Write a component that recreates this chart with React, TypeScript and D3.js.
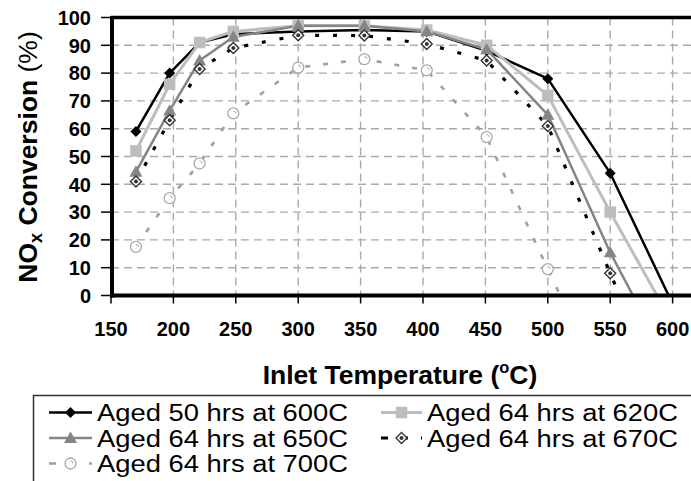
import React from "react";
import * as d3 from "d3";

// Inlet temperatures (°C) at which NOx conversion was measured
const TEMPS = [170, 197, 221, 248, 300, 353, 403, 451, 500, 550, 600];
const TEMPS_700 = [170, 197, 221, 248, 300, 353, 403, 451, 500, 550];

// NOx conversion (%) per ageing condition
const AGED_50H_600C = [59, 80, 91, 94, 95, 95.5, 95, 88, 78, 44, -3];
const AGED_64H_620C = [52, 76, 91, 95, 97, 97, 95.5, 90, 72, 30, -10];
const AGED_64H_650C = [44.5, 66.5, 84.5, 93, 97, 97, 95, 88.5, 65, 15.5, -27];
const AGED_64H_670C = [41, 63, 81.5, 89, 93.6, 93.5, 90.5, 84.5, 61, 8, -45];
const AGED_64H_700C = [17.5, 35, 47.5, 65.5, 82, 85, 81, 57, 9.5, -38];

const X_TICKS = [150, 200, 250, 300, 350, 400, 450, 500, 550, 600];
const Y_TICKS = [0, 10, 20, 30, 40, 50, 60, 70, 80, 90, 100];

const LEGEND_LABELS = [
  "Aged 50 hrs at 600C",
  "Aged 64 hrs at 620C",
  "Aged 64 hrs at 650C",
  "Aged 64 hrs at 670C",
  "Aged 64 hrs at 700C",
];

type MarkerKind = "diamond" | "square" | "triangle" | "openDiamond" | "openCircle";

interface Series {
  name: string;
  xs: number[];
  ys: number[];
  color: string;
  width: number;
  dash?: string;
  marker: MarkerKind;
}

const SERIES: Series[] = [
  { name: LEGEND_LABELS[0], xs: TEMPS, ys: AGED_50H_600C, color: "#000", width: 2.5, marker: "diamond" },
  { name: LEGEND_LABELS[1], xs: TEMPS, ys: AGED_64H_620C, color: "#bdbdbd", width: 3, marker: "square" },
  { name: LEGEND_LABELS[2], xs: TEMPS, ys: AGED_64H_650C, color: "#858585", width: 2.5, marker: "triangle" },
  { name: LEGEND_LABELS[3], xs: TEMPS, ys: AGED_64H_670C, color: "#000", width: 3.2, dash: "4 14", marker: "openDiamond" },
  { name: LEGEND_LABELS[4], xs: TEMPS_700, ys: AGED_64H_700C, color: "#a0a0a0", width: 2.6, dash: "5 13", marker: "openCircle" },
];

const FONT = "'Liberation Sans', Arial, Helvetica, sans-serif";

const W = 691;
const H = 481;
const PLOT = { left: 111, right: 700, top: 17.5, bottom: 295.5 };

const x = d3.scaleLinear().domain([150, 600]).range([111, 672.6]);
const y = d3.scaleLinear().domain([0, 100]).range([PLOT.bottom, PLOT.top]);

function Marker({ kind, cx, cy, color }: { kind: MarkerKind; cx: number; cy: number; color: string }) {
  switch (kind) {
    case "diamond": {
      const r = 5.5;
      return <path d={`M${cx},${cy - r}L${cx + r},${cy}L${cx},${cy + r}L${cx - r},${cy}Z`} fill={color} />;
    }
    case "square": {
      const s = 11.5;
      return <rect x={cx - s / 2} y={cy - s / 2} width={s} height={s} fill={color} />;
    }
    case "triangle": {
      const r = 6.5;
      return (
        <path d={`M${cx},${cy - r}L${cx + r},${cy + r * 0.75}L${cx - r},${cy + r * 0.75}Z`} fill={color} />
      );
    }
    case "openDiamond": {
      const r = 5.5;
      return (
        <g>
          <path
            d={`M${cx},${cy - r}L${cx + r},${cy}L${cx},${cy + r}L${cx - r},${cy}Z`}
            fill="#fff"
            stroke="#333"
            strokeWidth={1.4}
          />
          <circle cx={cx} cy={cy} r={2} fill="#333" />
        </g>
      );
    }
    case "openCircle":
      return (
        <g>
          <circle cx={cx} cy={cy} r={5.5} fill="#fff" stroke="#a8a8a8" strokeWidth={1.3} />
          <path d={`M${cx},${cy - 2.5}A2.5,2.5 0 0 1 ${cx + 2.5},${cy}`} fill="none" stroke="#a8a8a8" strokeWidth={1} />
        </g>
      );
  }
}

export default function App() {
  const line = d3
    .line<[number, number]>()
    .x((d) => x(d[0]))
    .y((d) => y(d[1]));

  const legendRows = [
    { s: SERIES[0], lx: 49, tx: 97, by: 421 },
    { s: SERIES[1], lx: 381, tx: 427, by: 421 },
    { s: SERIES[2], lx: 49, tx: 97, by: 446.5 },
    { s: SERIES[3], lx: 381, tx: 427, by: 446.5 },
    { s: SERIES[4], lx: 49, tx: 97, by: 472 },
  ];

  return (
    <svg
      width={W}
      height={H}
      style={{ position: "absolute", left: 0, top: 0, background: "#fff" }}
      fontFamily={FONT}
    >
      <defs>
        <clipPath id="plot-clip">
          <rect x={PLOT.left} y={PLOT.top - 8} width={PLOT.right - PLOT.left} height={PLOT.bottom - PLOT.top + 8} />
        </clipPath>
      </defs>
      <rect x={0} y={0} width={W} height={H} fill="#fff" />

      {/* dashed grid */}
      <g stroke="#aaa" strokeWidth={1.4} strokeDasharray="8 5">
        {Y_TICKS.filter((t) => t > 0 && t < 100).map((t) => (
          <line key={`gy${t}`} x1={PLOT.left} x2={PLOT.right} y1={y(t)} y2={y(t)} />
        ))}
        {X_TICKS.filter((t) => t > 150).map((t) => (
          <line key={`gx${t}`} x1={x(t)} x2={x(t)} y1={PLOT.top} y2={PLOT.bottom} />
        ))}
      </g>

      {/* series lines */}
      <g clipPath="url(#plot-clip)">
        {SERIES.map((s) => {
          const pts = s.xs.map((t, i) => [t, s.ys[i]] as [number, number]);
          return (
            <path
              key={s.name}
              d={line(pts) ?? ""}
              fill="none"
              stroke={s.color}
              strokeWidth={s.width}
              strokeDasharray={s.dash}
              strokeLinejoin="round"
            />
          );
        })}
      </g>
      {/* series markers */}
      <g clipPath="url(#plot-clip)">
        {SERIES.map((s) =>
          s.xs.map((t, i) =>
            s.ys[i] >= 0 ? (
              <Marker key={`${s.name}-${t}`} kind={s.marker} cx={x(t)} cy={y(s.ys[i])} color={s.color} />
            ) : null
          )
        )}
      </g>

      {/* frame and axes */}
      <line x1={PLOT.left} x2={W + 10} y1={PLOT.top} y2={PLOT.top} stroke="#000" strokeWidth={3.5} />
      <line x1={PLOT.left + 1} x2={PLOT.left + 1} y1={PLOT.top - 1.5} y2={PLOT.bottom + 2} stroke="#000" strokeWidth={4} />
      <line x1={PLOT.left - 1} x2={W + 10} y1={PLOT.bottom} y2={PLOT.bottom} stroke="#000" strokeWidth={4} />

      {/* y ticks and labels */}
      {Y_TICKS.map((t) => (
        <g key={`yt${t}`}>
          <line x1={101} x2={PLOT.left} y1={y(t)} y2={y(t)} stroke="#000" strokeWidth={1.5} />
          <text x={91} y={y(t)} dy="0.36em" textAnchor="end" fontSize={20} fontWeight="bold" fill="#000">
            {t}
          </text>
        </g>
      ))}

      {/* x ticks and labels */}
      {X_TICKS.map((t) => (
        <g key={`xt${t}`}>
          <line x1={x(t)} x2={x(t)} y1={PLOT.bottom} y2={PLOT.bottom + 8} stroke="#000" strokeWidth={1.5} />
          <text x={x(t)} y={336} textAnchor="middle" fontSize={20} fontWeight="bold" fill="#000">
            {t}
          </text>
        </g>
      ))}

      {/* axis titles */}
      <text
        transform="translate(37,157) rotate(-90)"
        textAnchor="middle"
        fontSize={26.5}
        fontWeight="bold"
        fill="#000"
      >
        NO
        <tspan fontSize={18} dy={5}>
          x
        </tspan>
        <tspan dy={-5}> Conversion </tspan>
        <tspan fontWeight="normal">(%)</tspan>
      </text>
      <text x={400} y={384} textAnchor="middle" fontSize={26.5} fontWeight="bold" fill="#000">
        Inlet Temperature (
        <tspan fontSize={16.5} dy={-11}>
          o
        </tspan>
        <tspan dy={11}>C)</tspan>
      </text>

      {/* legend */}
      <rect x={33.5} y={395.5} width={W} height={H} fill="#fff" stroke="#333" strokeWidth={1.5} />
      {legendRows.map(({ s, lx, tx, by }) => {
        const ly = by - 8.5;
        const len = tx - lx - 5;
        return (
          <g key={`lg-${s.name}`}>
            <line
              x1={lx}
              x2={lx + len}
              y1={ly}
              y2={ly}
              stroke={s.color}
              strokeWidth={s.width}
              strokeDasharray={s.dash ? "7 13" : undefined}
            />
            <Marker kind={s.marker} cx={lx + len / 2} cy={ly} color={s.color} />
            <text
              x={tx}
              y={by}
              fontSize={23.5}
              fill="#000"
              textLength={251}
              lengthAdjust="spacingAndGlyphs"
            >
              {s.name}
            </text>
          </g>
        );
      })}
    </svg>
  );
}
